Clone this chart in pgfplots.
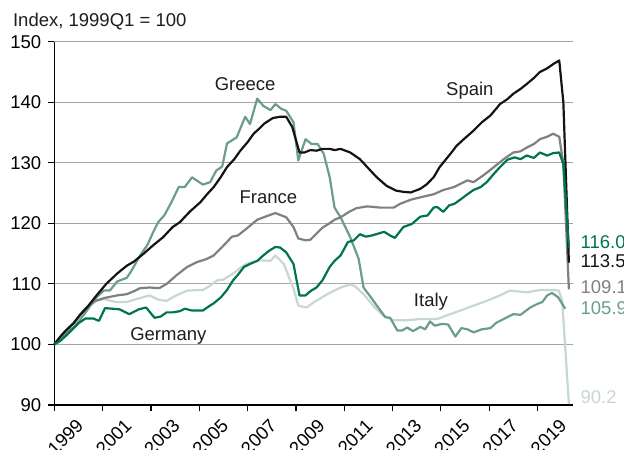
\documentclass[border=0pt]{standalone}
\usepackage{fontspec}
\setmainfont{Liberation Sans}
\usepackage{pgfplots}
\pgfplotsset{compat=1.18}
\definecolor{cGer}{RGB}{0,115,84}
\definecolor{cGre}{RGB}{106,158,138}
\definecolor{cFra}{RGB}{128,128,128}
\definecolor{cIta}{RGB}{200,216,208}
\definecolor{cSpa}{RGB}{20,20,20}
\definecolor{cGrid}{RGB}{165,165,165}
\definecolor{cTxt}{RGB}{30,30,30}
\begin{document}
\begin{tikzpicture}[font=\fontsize{9.25pt}{11pt}\selectfont]
\path[use as bounding box] (-27.15pt,-22pt) rectangle (284.85pt,202.5pt);
\begin{axis}[
  at={(0,0)}, anchor=south west,
  scale only axis, width=259.35pt, height=181.65pt,
  xmin=1999, xmax=2020.47, ymin=90, ymax=150,
  axis lines=left, axis line style={-, black, line width=0.6pt},
  xtick={1999,2001,...,2019}, ytick={90,100,...,150},
  tick align=outside, major tick length=3pt,
  tick style={black, line width=0.6pt},
  ymajorgrids, grid style={cGrid, line width=0.6pt},
  xticklabel style={xshift=5.5pt, yshift=-13pt, rotate=45, anchor=center},
  /pgf/number format/1000 sep={},
  /pgf/number format/assume math mode=true,
  clip=false,
  every axis plot/.append style={line width=1.1pt, line join=round, no markers},
]
% Italy
\addplot[cIta] coordinates {
(1999.0,100) (1999.3,101.5) (1999.6,102.8) (1999.9,104.0) (2000.2,105.3) (2000.5,106.5) (2000.75,107.2)
(2001.05,107.5) (2001.55,107.0) (2002.0,107.0) (2002.4,107.5) (2002.95,108.1) (2003.3,107.4) (2003.65,107.2)
(2004.05,108.1) (2004.5,108.9) (2005.15,109.0) (2005.45,109.7) (2005.75,110.6) (2006.0,110.7) (2006.4,111.7)
(2006.75,112.8) (2006.95,113.3) (2007.5,113.9) (2007.95,113.8) (2008.15,114.7) (2008.5,113.3) (2008.9,109.2)
(2009.1,106.4) (2009.45,106.1) (2009.75,107.0) (2010.3,108.3) (2010.85,109.4) (2011.25,109.9) (2011.45,109.6)
(2011.8,108.3) (2012.2,106.4) (2012.6,104.8) (2013.05,104.0) (2013.6,104.0) (2014.15,104.2) (2014.85,104.2)
(2015.25,104.8) (2015.8,105.6) (2016.35,106.4) (2016.9,107.2) (2017.45,108.1) (2017.85,108.9) (2018.55,108.6)
(2019.1,109.0) (2019.65,109.0) (2019.88,108.9) (2020.02,107.3) (2020.3,90.2)
};
% Greece
\addplot[cGre] coordinates {
(1999.0,100) (1999.3,101.2) (1999.55,102.0) (1999.8,102.8) (2000.05,104.0) (2000.35,105.6) (2000.75,107.8)
(2001.05,108.9) (2001.3,108.9) (2001.6,110.4) (2002.0,111.0) (2002.2,112.2) (2002.55,114.7) (2002.85,116.4)
(2003.1,118.6) (2003.3,120.2) (2003.55,121.3) (2003.85,123.5) (2004.15,126.0) (2004.4,126.0) (2004.7,127.6)
(2005.15,126.4) (2005.45,126.8) (2005.7,128.7) (2005.95,129.4) (2006.15,133.2) (2006.55,134.2) (2006.9,137.6)
(2007.1,136.4) (2007.4,140.6) (2007.65,139.4) (2007.95,138.7) (2008.15,139.7) (2008.4,138.9) (2008.6,138.6)
(2008.9,136.7) (2009.1,130.4) (2009.4,133.9) (2009.65,133.1) (2009.9,133.1) (2010.15,131.5) (2010.4,127.6)
(2010.6,122.6) (2010.85,121.0) (2011.25,117.7) (2011.6,114.1) (2011.8,109.4) (2012.1,107.8) (2012.5,105.6)
(2012.7,104.5) (2012.9,104.4) (2013.2,102.3) (2013.4,102.3) (2013.6,102.8) (2013.85,102.2) (2014.15,102.9)
(2014.35,102.5) (2014.55,103.8) (2014.75,103.1) (2015.05,103.4) (2015.3,103.3) (2015.6,101.3) (2015.85,102.7)
(2016.1,102.5) (2016.35,102.0) (2016.7,102.5) (2017.05,102.7) (2017.3,103.6) (2017.6,104.2) (2018.0,105.0)
(2018.3,104.9) (2018.7,106.1) (2019.0,106.7) (2019.2,107.0) (2019.4,108.1) (2019.6,108.5) (2019.85,107.8)
(2020.15,105.9)
};
% France
\addplot[cFra] coordinates {
(1999.0,100) (1999.3,101.5) (1999.65,102.8) (2000.2,105.6) (2000.45,106.5) (2000.7,107.2) (2001.1,107.7)
(2001.6,108.1) (2002.0,108.3) (2002.3,108.8) (2002.55,109.3) (2002.95,109.4) (2003.35,109.3) (2003.65,110.0)
(2004.05,111.4) (2004.5,112.8) (2004.9,113.6) (2005.3,114.1) (2005.6,114.7) (2005.95,116.1) (2006.35,117.8)
(2006.6,118.0) (2006.95,119.1) (2007.4,120.6) (2007.8,121.2) (2008.15,121.7) (2008.6,121.0) (2008.9,119.4)
(2009.1,117.5) (2009.4,117.2) (2009.6,117.3) (2009.85,118.3) (2010.1,119.3) (2010.35,119.9) (2010.6,120.6)
(2010.85,121.0) (2011.2,121.9) (2011.5,122.5) (2011.95,122.8) (2012.5,122.6) (2013.05,122.6) (2013.3,123.2)
(2013.75,123.9) (2014.15,124.3) (2014.7,124.8) (2015.1,125.5) (2015.55,126.0) (2016.1,127.1) (2016.35,126.8)
(2016.75,127.9) (2017.2,129.3) (2017.6,130.6) (2018.0,131.7) (2018.3,131.9) (2018.55,132.5) (2018.85,133.1)
(2019.1,133.9) (2019.4,134.3) (2019.65,134.8) (2019.9,134.3) (2020.07,129.8) (2020.3,109.1)
};
% Spain
\addplot[cSpa] coordinates {
(1999.0,100) (1999.25,101.3) (1999.5,102.4) (1999.8,103.5) (2000.05,104.8) (2000.35,106.1) (2000.75,108.1)
(2001.15,110.0) (2001.6,111.7) (2002.0,113.0) (2002.3,113.7) (2002.7,115.0) (2003.1,116.4) (2003.5,117.7)
(2003.9,119.4) (2004.2,120.2) (2004.6,121.9) (2005.05,123.5) (2005.3,124.7) (2005.6,126.0) (2005.9,127.7)
(2006.15,129.3) (2006.45,130.6) (2006.7,132.0) (2007.0,133.4) (2007.25,134.8) (2007.5,135.7) (2007.7,136.5)
(2008.05,137.4) (2008.35,137.6) (2008.6,137.6) (2008.85,135.9) (2009.05,133.1) (2009.15,131.7) (2009.35,131.7)
(2009.6,132.1) (2009.85,132.0) (2010.1,132.3) (2010.4,132.3) (2010.6,132.1) (2010.85,132.3) (2011.25,131.7)
(2011.65,130.6) (2011.95,129.3) (2012.35,127.6) (2012.75,126.2) (2013.15,125.4) (2013.45,125.2) (2013.75,125.1)
(2014.15,125.7) (2014.4,126.4) (2014.7,127.6) (2014.95,129.3) (2015.4,131.5) (2015.65,132.8) (2015.95,133.9)
(2016.35,135.3) (2016.7,136.7) (2017.05,137.8) (2017.45,139.7) (2017.75,140.5) (2018.0,141.4) (2018.3,142.2)
(2018.55,143.0) (2018.85,144.0) (2019.1,145.0) (2019.4,145.6) (2019.65,146.3) (2019.9,146.9) (2020.07,140.0)
(2020.3,113.5)
};
% Germany
\addplot[cGer] coordinates {
(1999.0,100) (1999.25,100.6) (1999.5,101.5) (1999.75,102.5) (2000.0,103.5) (2000.3,104.3) (2000.6,104.3)
(2000.85,103.9) (2001.1,106.0) (2001.4,105.9) (2001.7,105.8) (2002.1,105.0) (2002.5,105.8) (2002.8,106.1)
(2003.15,104.4) (2003.4,104.6) (2003.65,105.3) (2003.9,105.3) (2004.2,105.5) (2004.4,105.9) (2004.7,105.6)
(2005.15,105.6) (2005.4,106.3) (2005.6,106.8) (2005.9,107.8) (2006.15,109.0) (2006.4,110.6) (2006.6,111.5)
(2006.85,112.8) (2007.1,113.3) (2007.4,113.8) (2007.65,114.7) (2007.9,115.5) (2008.15,116.1) (2008.35,116.0)
(2008.6,115.2) (2008.9,113.3) (2009.15,108.1) (2009.4,108.1) (2009.6,108.8) (2009.85,109.4) (2010.1,110.6)
(2010.4,112.8) (2010.6,113.8) (2010.85,114.7) (2011.15,116.9) (2011.4,117.2) (2011.65,118.2) (2011.9,117.8)
(2012.15,118.0) (2012.4,118.3) (2012.65,118.6) (2012.9,118.0) (2013.1,117.6) (2013.45,119.4) (2013.8,119.9)
(2014.15,121.1) (2014.45,121.3) (2014.7,122.6) (2014.85,122.7) (2015.1,121.9) (2015.35,123.0) (2015.55,123.2)
(2015.8,123.9) (2016.1,124.8) (2016.35,125.5) (2016.65,126.0) (2016.9,126.8) (2017.2,128.2) (2017.45,129.3)
(2017.75,130.5) (2018.05,130.9) (2018.3,130.6) (2018.55,131.2) (2018.85,130.8) (2019.1,131.7) (2019.4,131.2)
(2019.65,131.6) (2019.9,131.7) (2020.07,129.8) (2020.3,116.0)
};
% series labels
\node[anchor=base, cTxt] at (axis cs:2006.9,141.86) {Greece};
\node[anchor=base, cTxt] at (axis cs:2016.2,141.1) {Spain};
\node[anchor=base, cTxt] at (axis cs:2007.86,123.2) {France};
\node[anchor=base, cTxt] at (axis cs:2014.59,106.2) {Italy};
\node[anchor=base, cTxt] at (axis cs:2003.72,100.7) {Germany};
% end values
\node[anchor=base west, inner sep=0pt, cGer] at (axis cs:2020.77,115.8) {116.0};
\node[anchor=base west, inner sep=0pt, cSpa] at (axis cs:2020.77,112.7) {113.5};
\node[anchor=base west, inner sep=0pt, cFra] at (axis cs:2020.77,108.4) {109.1};
\node[anchor=base west, inner sep=0pt, cGre] at (axis cs:2020.77,105.0) {105.9};
\node[anchor=base west, inner sep=0pt, cIta] at (axis cs:2020.77,90.17) {90.2};
\end{axis}
\node[anchor=base west, inner sep=0pt, cTxt] at (-20.8pt,189.15pt) {Index, 1999Q1 = 100};
\end{tikzpicture}
\end{document}
